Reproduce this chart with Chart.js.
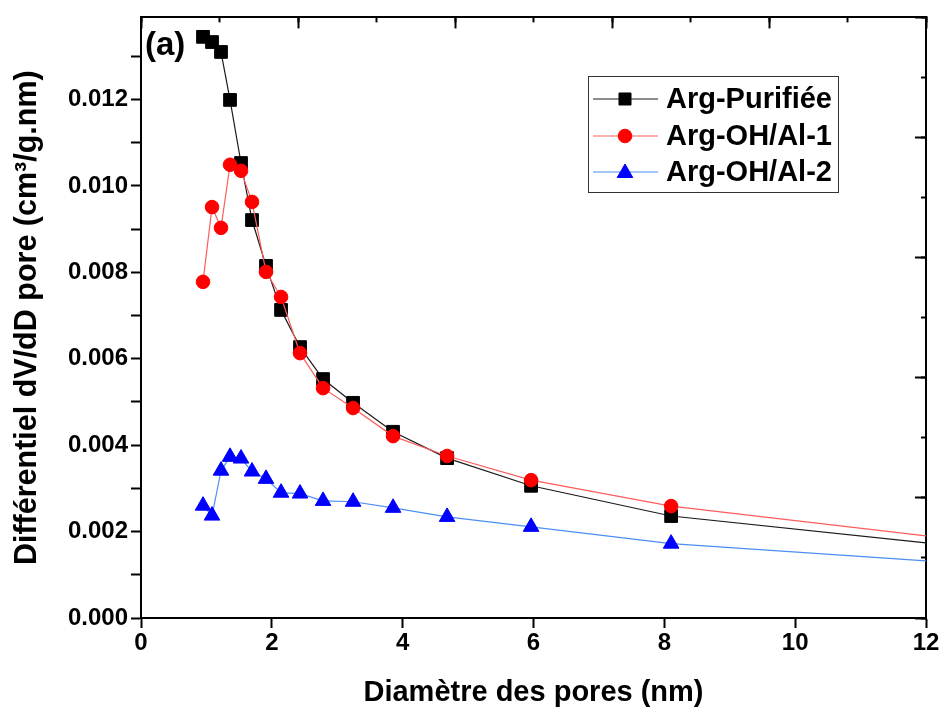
<!DOCTYPE html>
<html>
<head>
<meta charset="utf-8">
<script src="https://cdn.jsdelivr.net/npm/chart.js@4.4.1/dist/chart.umd.min.js"></script>
<style>
html,body{margin:0;padding:0;background:#fff;}
#wrap{width:946px;height:715px;}
</style>
</head>
<body>
<div id="wrap"><canvas id="c" width="946" height="715"></canvas></div>
<script>
// ---- data ----
const diametre = [0.948, 1.086, 1.223, 1.361, 1.529, 1.697, 1.911, 2.141, 2.431, 2.783, 3.242, 3.853, 4.679, 5.963, 8.104, 12.0];
const argPurifiee = [0.01345, 0.01333, 0.01310, 0.01199, 0.01053, 0.00921, 0.00815, 0.00713, 0.00627, 0.00553, 0.00498, 0.00431, 0.00370, 0.00306, 0.00236, 0.00174];
const argOHAl1 = [0.00778, 0.00951, 0.00903, 0.01049, 0.01035, 0.00963, 0.00801, 0.00743, 0.00613, 0.00532, 0.00486, 0.00421, 0.00375, 0.00319, 0.00259, 0.00190];
const argOHAl2 = [0.00260, 0.00237, 0.00341, 0.00373, 0.00369, 0.00339, 0.00322, 0.00290, 0.00288, 0.00271, 0.00269, 0.00255, 0.00234, 0.00211, 0.00172, 0.00132];
const seriesNames = ['Arg-Purifiée', 'Arg-OH/Al-1', 'Arg-OH/Al-2'];
const xTitle = 'Diamètre des pores (nm)';
const yTitle = 'Différentiel dV/dD pore (cm³/g.nm)';
const panelLabel = '(a)';

const FONT = '"Liberation Sans", Arial, "DejaVu Sans", sans-serif';
const toXY = (ys) => ys.map((v, i) => ({x: diametre[i], y: v}));
const lastIdx = diametre.length - 1;
const radiusFn = (r) => (ctx) => ctx.dataIndex === lastIdx ? 0 : r;

const whiteBg = {
  id: 'whiteBg',
  beforeDraw(chart) {
    const c = chart.ctx; c.save(); c.fillStyle = '#fff';
    c.fillRect(0, 0, chart.width, chart.height); c.restore();
  }
};

function marker(ctx, style, x, y, r, color) {
  ctx.save();
  ctx.fillStyle = color; ctx.strokeStyle = color; ctx.lineWidth = 1;
  ctx.beginPath();
  if (style === 'rect') {
    const s = Math.SQRT1_2 * r; ctx.rect(x - s, y - s, 2 * s, 2 * s);
  } else if (style === 'circle') {
    ctx.arc(x, y, r, 0, Math.PI * 2);
  } else {
    ctx.moveTo(x, y - r);
    ctx.lineTo(x + Math.sin(2 * Math.PI / 3) * r, y + r / 2);
    ctx.lineTo(x - Math.sin(2 * Math.PI / 3) * r, y + r / 2);
    ctx.closePath();
  }
  ctx.fill(); ctx.stroke();
  ctx.restore();
}

const legendAndLabel = {
  id: 'legendAndLabel',
  afterDraw(chart) {
    const c = chart.ctx;
    c.save();
    // panel label
    c.fillStyle = '#000';
    c.font = 'bold 33px ' + FONT;
    c.textBaseline = 'middle'; c.textAlign = 'left';
    c.fillText(panelLabel, 145, 46);
    // legend box
    const bx = 588, by = 76, bw = 250, bh = 116;
    c.strokeStyle = '#333'; c.lineWidth = 1;
    c.strokeRect(bx + 0.5, by + 0.5, bw, bh);
    const rows = [99, 136, 172];
    c.font = 'bold 29px ' + FONT;
    chart.data.datasets.forEach((ds, i) => {
      const y = rows[i];
      c.strokeStyle = ds.borderColor; c.lineWidth = 1.2;
      c.beginPath(); c.moveTo(593, y); c.lineTo(658, y); c.stroke();
      marker(c, ds.pointStyle, 625, y + (ds.pointStyle === 'triangle' ? 1 : 0), ds.legendR, ds.pointBackgroundColor);
      c.fillStyle = '#000';
      c.fillText(ds.label, 666, y + 1);
    });
    c.restore();
  }
};

const fixW = (w) => (s) => { s.width = w; };
const fixH = (h) => (s) => { s.height = h; };

new Chart(document.getElementById('c'), {
  type: 'line',
  data: {
    datasets: [
      {label: seriesNames[0], data: toXY(argPurifiee), borderColor: '#1a1a1a', borderWidth: 1.2,
       pointStyle: 'rect', pointRadius: radiusFn(9), pointBackgroundColor: '#000', pointBorderColor: '#000', pointBorderWidth: 1, legendR: 8.5, order: 3},
      {label: seriesNames[1], data: toXY(argOHAl1), borderColor: '#ff5c5c', borderWidth: 1.2,
       pointStyle: 'circle', pointRadius: radiusFn(6.8), pointBackgroundColor: '#ff0000', pointBorderColor: '#ff0000', pointBorderWidth: 1, legendR: 6.8, order: 2},
      {label: seriesNames[2], data: toXY(argOHAl2), borderColor: '#4d8ef5', borderWidth: 1.2,
       pointStyle: 'triangle', pointRadius: radiusFn(9), pointBackgroundColor: '#0000ff', pointBorderColor: '#0000ff', pointBorderWidth: 1, legendR: 9, order: 1}
    ]
  },
  options: {
    responsive: false,
    animation: false,
    devicePixelRatio: 1,
    layout: {padding: 0},
    plugins: {legend: {display: false}, title: {display: false}, tooltip: {enabled: false}},
    elements: {line: {tension: 0}},
    scales: {
      x: {
        type: 'linear', position: 'bottom', min: 0, max: 12,
        ticks: {stepSize: 2, color: '#000', font: {family: FONT, size: 24, weight: 'bold'}, padding: 1, maxRotation: 0},
        grid: {drawOnChartArea: false, tickLength: 10, tickWidth: 2, tickColor: '#000'},
        border: {display: true, color: '#000', width: 2},
        title: {display: true, text: xTitle, color: '#000', font: {family: FONT, size: 29, weight: 'bold'}, padding: {top: 0, bottom: 5}},
        afterFit: fixH(97)
      },
      y: {
        type: 'linear', position: 'left', min: 0, max: 0.0139,
        ticks: {stepSize: 0.001, includeBounds: false, autoSkip: false, color: '#000', font: {family: FONT, size: 24, weight: 'bold'}, padding: 3,
          callback: (v) => (Math.round(v * 1000) % 2 === 0 ? v.toFixed(3) : '')},
        grid: {drawOnChartArea: false, tickLength: 10, tickWidth: 2, tickColor: '#000'},
        border: {display: true, color: '#000', width: 2},
        title: {display: true, text: yTitle, color: '#000', font: {family: FONT, size: 30.5, weight: 'bold'}, padding: {top: 9, bottom: 0}},
        afterFit: fixW(141)
      },
      xTopMinor: {
        type: 'linear', position: 'top', min: 0, max: 10, weight: 0,
        ticks: {display: false, stepSize: 1},
        grid: {drawOnChartArea: false, tickLength: -5, tickWidth: 2, tickColor: '#000'},
        border: {display: true, color: '#000', width: 2},
        afterFit: fixH(0)
      },
      xTopMajor: {
        type: 'linear', position: 'top', min: 0, max: 10, weight: 1,
        ticks: {display: false, stepSize: 2},
        grid: {drawOnChartArea: false, tickLength: -11, tickWidth: 2, tickColor: '#000'},
        border: {display: false},
        afterFit: fixH(17)
      },
      yRightMinor: {
        type: 'linear', position: 'right', min: 0, max: 10, weight: 0,
        ticks: {display: false, stepSize: 1},
        grid: {drawOnChartArea: false, tickLength: -5, tickWidth: 2, tickColor: '#000'},
        border: {display: true, color: '#000', width: 2},
        afterFit: fixW(0)
      },
      yRightMajor: {
        type: 'linear', position: 'right', min: 0, max: 10, weight: 1,
        ticks: {display: false, stepSize: 2},
        grid: {drawOnChartArea: false, tickLength: -11, tickWidth: 2, tickColor: '#000'},
        border: {display: false},
        afterFit: fixW(20)
      }
    }
  },
  plugins: [whiteBg, legendAndLabel]
});
</script>
</body>
</html>
